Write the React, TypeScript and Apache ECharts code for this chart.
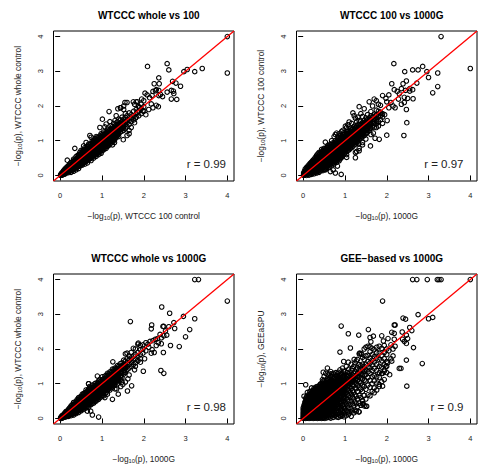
import React, { useEffect, useRef } from "react";
import * as echarts from "echarts";

type Row = number[];
const titles = ["WTCCC whole vs 100", "WTCCC 100 vs 1000G", "WTCCC whole vs 1000G", "GEE−based vs 1000G"];
const xNames = ["WTCCC 100 control", "1000G", "1000G", "1000G"];
const yNames = ["WTCCC whole control", "WTCCC 100 control", "WTCCC whole control", "GEEaSPU"];
const rLabels = ["r = 0.99", "r = 0.97", "r = 0.98", "r = 0.9"];
const ticks = [0, 1, 2, 3, 4];
const diagonal = [[-0.16, -0.16], [4.16, 4.16]];

// Each row is an x value followed by the y values read at that x.
const rows1: Row[] = [
  [.01,.0,.02],[.03,.01,.04,.06],[.05,.01,.05,.09],[.08,.03,.07,.11,.14],[.11,.04,.09,.14,.18],[.14,.07,.12,.17,.22],[.17,.09,.14,.2,.25,.44],
  [.2,.08,.13,.18,.23,.29],[.23,.12,.17,.22,.28,.33],[.26,.09,.15,.2,.26,.31,.37],[.29,.15,.21,.27,.33,.39],[.32,.12,.18,.24,.3,.36,.42,.47],
  [.35,.2,.26,.32,.38,.45,.78],[.38,.16,.22,.29,.35,.41,.47,.54],[.41,.24,.31,.37,.44,.5,.57],[.44,.2,.27,.34,.4,.46,.53,.6],
  [.47,.27,.33,.4,.46,.52,.59,.66],[.5,.3,.36,.43,.49,.55,.62,.72],[.53,.3,.38,.45,.52,.58,.64,.7],[.56,.36,.42,.48,.55,.61,.67,.73,.85],
  [.59,.33,.4,.47,.54,.6,.67,.74,.8],[.62,.4,.47,.53,.6,.66,.72,.78,.95],[.65,.36,.44,.5,.57,.63,.7,.76,.83],[.68,.45,.52,.58,.65,.71,.77,.84,.9],
  [.71,.48,.55,.62,.68,.75,.81,.88,1.15],[.74,.43,.5,.58,.65,.72,.78,.85,.92,1.1],[.77,.53,.6,.67,.74,.8,.87,.94,1.0],[.8,.5,.57,.64,.71,.78,.84,.91,.98],
  [.83,.58,.65,.72,.79,.85,.92,.99,1.06],[.86,.55,.63,.7,.77,.84,.9,.97,1.04,1.12],[.89,.63,.7,.77,.83,.9,.96,1.03,1.1],[.92,.6,.68,.75,.82,.89,.95,1.02,1.09],
  [.95,.66,.73,.8,.87,.94,1.0,1.07,1.14,1.38],[.98,.64,.71,.79,.86,.93,1.0,1.06,1.12,1.2],[1.01,.72,.79,.86,.93,.99,1.05,1.12,1.18,1.62],[1.04,.74,.82,.89,.96,1.03,1.09,1.16,1.25],
  [1.07,.8,.87,.94,1.0,1.07,1.13,1.2,1.4],[1.1,.78,.85,.93,1.0,1.06,1.12,1.19,1.27,1.48],[1.13,.84,.91,.98,1.05,1.11,1.17,1.24,1.33],[1.16,.86,.94,1.01,1.08,1.14,1.21,1.28],
  [1.19,.9,.98,1.05,1.12,1.18,1.25,1.32,1.55],[1.22,.95,1.02,1.09,1.15,1.22,1.28,1.35,1.43],[1.25,.98,1.05,1.12,1.19,1.26,1.33,1.4],[1.28,1.0,1.08,1.16,1.23,1.3,1.37,1.5],
  [1.31,1.05,1.13,1.2,1.27,1.34,1.42,1.58],[1.34,1.1,1.17,1.25,1.32,1.4,1.46,1.72],[1.37,1.14,1.22,1.29,1.36,1.44,1.55],[1.4,1.12,1.2,1.3,1.38,1.47,1.62],
  [1.44,1.25,1.34,1.42,1.5,1.6,1.95],[1.48,1.28,1.38,1.46,1.55,1.68],[1.52,1.3,1.42,1.5,1.62,1.9],[1.56,1.35,1.46,1.55,1.67,1.78],[1.6,1.4,1.52,1.6,1.72,2.1],[1.65,1.47,1.58,1.66,1.8],
  [1.7,1.55,1.65,1.75],[1.76,1.6,1.72,1.85],[1.82,1.68,1.78,1.9,2.12],[1.88,1.72,1.85,1.98],[1.94,1.78,1.92,2.05],[2.0,1.85,1.98,2.15],
];
const core1: Row[] = [
  [.125,.06,.1,.14],[.155,.1,.15,.19],[.185,.12,.18,.23],[.215,.15,.2,.25],[.245,.17,.23,.28],[.275,.18,.24,.3],
  [.315,.2,.27,.33,.39],[.375,.25,.32,.38,.44],[.435,.3,.37,.43,.5],[.495,.33,.4,.46,.52,.58],[.555,.39,.45,.52,.58,.64],[.615,.43,.5,.56,.63,.69],[.675,.48,.55,.61,.68,.74],
  [.735,.53,.6,.67,.74,.8],[.795,.6,.66,.73,.8,.87],[.855,.65,.72,.79,.86,.93],[.915,.7,.77,.84,.91,.98],[.975,.75,.82,.89,.96,1.03],[1.035,.8,.87,.94,1.01,1.08],[1.095,.86,.93,1.0,1.07,1.14],
  [1.155,.92,.99,1.06,1.13,1.2],[1.215,1.0,1.07,1.14,1.21,1.28],[1.275,1.06,1.14,1.21,1.28,1.35],[1.335,1.14,1.22,1.3,1.38],[1.395,1.2,1.28,1.36,1.44],[1.42,1.3,1.4,1.5],[1.5,1.36,1.46,1.56],
];
const extra1: number[][] = [
  [4,4],[4,2.95],[3.4,3.08],[3.22,2.99],[3.04,3.05],[2.96,2.99],[2.56,3.22],[2.6,3.04],[2.09,3.14],[2.36,2.81],[2.69,2.71],[2.77,2.66],[2.88,2.57],[2.25,2.64],[2.37,2.64],[2.79,2.19],[2.66,2.2],[2.71,2.43],[2.56,2.4],[2.66,2.45],[2.72,2.36],
  [2.36,2.45],[2.3,2.47],[2.4,2.33],[2.45,2.27],[2.36,2.3],[2.03,2.37],[2.08,2.32],[2.14,2.24],[2.2,2.3],[2.22,2.42],[2.28,2.44],[2.18,2.06],[2.22,1.95],[2.3,2.02],[2.35,1.98],[2.12,1.9],[2.05,1.75],[1.98,1.86],[1.9,1.96],[1.85,2.12],[1.78,2.05],[1.75,2.12],[1.55,2.1],[1.52,2.0],[1.45,1.95],[1.38,1.92],[1.17,1.84],[1.85,1.82],[1.8,1.65],[1.78,1.52],[1.65,1.3],[1.65,1.2],[1.51,1.03],[1.3,.95],[1.25,.88],[1.6,1.15],[1.95,2.2],[1.7,1.38],
];

const rows2: Row[] = [
  [.01,.0,.03,.07],[.03,.01,.06,.12],[.05,.02,.08,.14,.19],[.08,.0,.05,.11,.17,.23],[.11,.03,.09,.15,.21,.27],[.14,.01,.07,.13,.19,.25,.31],[.17,.05,.11,.17,.23,.29,.35],
  [.2,.03,.09,.15,.21,.27,.33,.39],[.23,.07,.13,.19,.25,.31,.37,.43],[.26,.05,.11,.17,.23,.29,.35,.41,.47],[.29,.09,.15,.21,.27,.33,.39,.45,.52],[.32,.07,.13,.19,.25,.31,.37,.43,.5,.58],
  [.35,.11,.17,.24,.3,.36,.42,.49,.55,.62],[.38,.09,.15,.22,.28,.34,.4,.46,.53,.6,.66],[.41,.13,.19,.26,.32,.38,.44,.51,.57,.64],[.44,.16,.23,.29,.35,.42,.48,.55,.61,.68,.75],
  [.47,.14,.21,.28,.34,.4,.47,.53,.59,.66,.72],[.5,.18,.25,.32,.38,.45,.51,.58,.64,.71,.78],[.53,.16,.23,.3,.37,.43,.5,.56,.63,.69,.76,.96],[.56,.21,.28,.35,.41,.48,.54,.61,.67,.74,.8],
  [.59,.27,.34,.4,.47,.53,.6,.66,.72,.79,.85],[.62,.25,.32,.39,.45,.52,.58,.65,.71,.78,.84],[.65,.31,.38,.44,.51,.57,.64,.7,.77,.83,.9],[.68,.3,.37,.43,.5,.57,.63,.7,.76,.83,.89,1.0],
  [.71,.35,.42,.48,.55,.62,.68,.75,.81,.88,.94],[.74,.33,.4,.47,.54,.6,.67,.74,.8,.87,.93,1.12],[.77,.4,.46,.53,.6,.66,.73,.8,.86,.93,1.0,1.18],[.8,.38,.45,.52,.58,.65,.72,.79,.85,.92,.98,1.22],
  [.83,.44,.51,.58,.64,.71,.78,.84,.91,.97,1.04,1.12],[.86,.42,.5,.57,.63,.7,.77,.83,.9,.96,1.03,1.09,1.2],[.89,.48,.55,.62,.69,.76,.82,.89,.95,1.02,1.08,1.15],[.92,.52,.6,.67,.74,.8,.87,.94,1.0,1.07,1.13,1.27],
  [.95,.58,.65,.72,.79,.85,.92,.98,1.05,1.11,1.18,1.3],[.98,.62,.7,.77,.84,.9,.97,1.03,1.1,1.17,1.24],[1.01,.66,.73,.8,.87,.93,1.0,1.06,1.13,1.2,1.42],[1.04,.6,.7,.78,.85,.92,.98,1.05,1.12,1.18,1.25,1.38],
  [1.07,.72,.8,.87,.94,1.0,1.07,1.14,1.2,1.27,1.46],[1.1,.74,.82,.89,.96,1.03,1.09,1.16,1.22,1.3,1.54],[1.13,.78,.86,.93,1.0,1.07,1.13,1.2,1.27,1.35],[1.16,.8,.88,.96,1.03,1.1,1.17,1.24,1.32,1.5],
  [1.19,.84,.92,1.0,1.07,1.14,1.21,1.28,1.35,1.8],[1.22,.88,.96,1.04,1.11,1.18,1.25,1.32,1.42,1.72],[1.25,.66,.9,1.0,1.08,1.16,1.23,1.3,1.38,1.65],[1.28,.94,1.02,1.1,1.18,1.26,1.33,1.42,1.55],
  [1.31,.98,1.06,1.14,1.22,1.3,1.38,1.46,1.68],[1.34,.78,1.02,1.12,1.2,1.28,1.36,1.45,1.58,1.98],[1.38,1.08,1.18,1.27,1.36,1.45,1.56,1.78],[1.42,.95,1.12,1.22,1.32,1.42,1.52,1.7],
  [1.46,1.15,1.26,1.36,1.46,1.58,1.92],[1.5,1.05,1.2,1.32,1.42,1.54,1.66],[1.54,1.25,1.36,1.48,1.6,1.75],[1.58,1.3,1.42,1.54,1.66,2.12],[1.62,1.18,1.36,1.48,1.6,1.72,1.84],[1.66,1.42,1.55,1.68,2.0],
  [1.7,1.38,1.5,1.62,1.76,2.2],[1.75,1.48,1.6,1.72,1.88,2.15],[1.8,1.42,1.55,1.7,1.85,2.05],[1.85,1.6,1.72,1.82,2.02],[1.9,1.5,1.68,1.78,2.3],
];
const core2: Row[] = [
  [.125,.06,.12,.18,.24],[.155,.09,.15,.21,.27],[.185,.12,.18,.24,.3],[.215,.12,.18,.24,.3,.36],[.245,.14,.2,.26,.32,.38],[.275,.16,.22,.28,.34,.4],
  [.315,.16,.22,.28,.34,.4,.46],[.375,.2,.26,.32,.38,.44,.5],[.435,.24,.3,.36,.42,.48,.54,.6],[.495,.3,.36,.42,.48,.54,.6,.66],[.555,.34,.4,.46,.52,.58,.64,.7],[.615,.39,.45,.51,.57,.63,.69,.75],[.675,.45,.51,.57,.63,.69,.75,.81],
  [.735,.5,.56,.62,.68,.74,.8,.86],[.795,.55,.61,.67,.73,.79,.85,.91],[.855,.6,.66,.72,.78,.84,.9,.96],[.915,.65,.71,.77,.83,.89,.95,1.01],[.975,.7,.76,.82,.88,.94,1.0,1.06],[1.035,.76,.82,.88,.94,1.0,1.06,1.12],[1.095,.82,.88,.94,1.0,1.06,1.12,1.18],
  [1.155,.88,.94,1.0,1.06,1.12,1.18,1.24],[1.215,.94,1.0,1.06,1.12,1.18,1.24,1.3],[1.275,1.0,1.06,1.13,1.2,1.27,1.34],[1.335,1.06,1.14,1.22,1.3,1.38],[1.395,1.14,1.22,1.3,1.38,1.46],[1.44,1.2,1.3,1.4,1.5],[1.52,1.3,1.4,1.5,1.6],[1.6,1.38,1.5,1.62],[1.68,1.5,1.6,1.7],[1.76,1.55,1.66,1.76],
];
const extra2: number[][] = [
  [3.3,4],[4,3.08],[2.17,3.22],[2.43,2.99],[2.62,3.04],[2.75,3.04],[2.86,3.14],[2.96,2.99],[3,2.82],[3.22,2.95],[3.22,2.56],[3.1,2.38],[2.72,2.66],[2.12,2.64],[2.47,2.72],[2.39,2.64],[2.62,2.47],[2.55,2.43],[2.63,2.21],[2.47,1.9],[2.48,1.52],[2.41,1.15],[2,1.16],[1.82,1.04],[1.72,1.07],[1.61,.85],[1.25,.51],[.91,.03],[.77,.07],[.72,.16],[.82,.27],[.65,.11],[.54,.18],[1.04,.52],[1.28,.69],[1.34,.71],[2.01,1.58],
  [1.95,1.75],[2.05,1.95],[2.1,2.1],[2.15,2.0],[2.2,1.95],[2.28,2.2],[2.35,2.05],[2.42,2.1],[2.5,2.22],[2.3,2.35],[2.25,2.42],[2.18,2.47],[2.05,2.32],[1.98,2.22],[2.35,2.5],[2.45,2.45],[2.55,2.5],[2.0,2.12],[1.88,1.75],[1.68,1.22],[1.75,1.38],[1.5,1.22],[2.42,2.25],[1.42,.88],[1.32,.92],
];

const rows3: Row[] = [
  [.01,.0,.02],[.03,.0,.03,.06],[.05,.01,.05,.09],[.08,.03,.07,.11],[.11,.04,.08,.12,.16],[.14,.05,.1,.15,.2],[.17,.07,.12,.17,.22],
  [.2,.06,.11,.16,.21,.27],[.23,.09,.14,.2,.25,.31],[.26,.08,.13,.19,.24,.3,.36],[.29,.12,.17,.23,.28,.34,.4],[.32,.1,.16,.22,.28,.34,.4,.46],
  [.35,.15,.21,.27,.33,.39,.45],[.38,.14,.2,.26,.32,.38,.44,.5],[.41,.19,.25,.31,.37,.43,.49,.55],[.44,.17,.24,.3,.36,.42,.48,.54,.6],
  [.47,.23,.29,.35,.41,.47,.53,.6],[.5,.22,.28,.35,.41,.47,.53,.59,.64],[.53,.27,.33,.4,.46,.52,.58,.64,.7],[.56,.26,.33,.4,.46,.52,.58,.64,.71],
  [.59,.31,.38,.44,.5,.56,.62,.68,.74],[.62,.3,.37,.43,.5,.56,.62,.68,.74,.82],[.65,.35,.42,.48,.55,.61,.67,.73,.79],[.68,.33,.4,.47,.54,.6,.66,.72,.78,.85,1.0],
  [.71,.4,.47,.53,.6,.66,.72,.78,.84,.92],[.74,.4,.47,.54,.61,.67,.73,.79,.85],[.77,.44,.51,.58,.65,.71,.77,.83,.89,.96],[.8,.44,.52,.59,.66,.72,.78,.84,.9],
  [.83,.5,.57,.64,.7,.76,.82,.88,.94,1.0],[.86,.5,.57,.64,.71,.77,.83,.89,.95,1.02],[.89,.56,.63,.7,.76,.82,.88,.94,1.0,1.22],[.92,.55,.63,.7,.77,.83,.89,.95,1.02,1.08],
  [.95,.6,.67,.74,.8,.86,.92,.98,1.05,1.12],[.98,.62,.7,.77,.83,.89,.95,1.01,1.08],[1.01,.66,.73,.8,.86,.92,.98,1.05,1.12,1.2],[1.04,.65,.74,.81,.88,.94,1.0,1.07,1.14],
  [1.07,.6,.72,.8,.87,.94,1.0,1.07,1.14,1.22],[1.1,.74,.82,.89,.96,1.02,1.09,1.16,1.24],[1.13,.7,.8,.88,.95,1.02,1.08,1.15,1.22,1.3],[1.16,.85,.92,.99,1.06,1.13,1.2,1.28],
  [1.19,.82,.9,.98,1.05,1.12,1.19,1.26,1.34],[1.22,.88,.96,1.03,1.1,1.17,1.24,1.32],[1.25,.9,.98,1.06,1.13,1.2,1.27,1.35,1.42],[1.28,.94,1.02,1.1,1.17,1.24,1.32,1.4],
  [1.31,.85,.98,1.06,1.14,1.22,1.3,1.38,1.45],[1.34,1.04,1.12,1.2,1.28,1.36,1.44],[1.37,1.0,1.1,1.2,1.28,1.36,1.44,1.52],[1.4,1.08,1.18,1.26,1.34,1.42,1.5],
  [1.44,1.12,1.22,1.32,1.4,1.5,1.58],[1.48,1.05,1.18,1.3,1.42,1.52,1.6],[1.52,1.28,1.38,1.46,1.56,1.68],[1.56,1.05,1.32,1.44,1.54,1.65,1.86],[1.6,1.4,1.5,1.6,1.72,1.88],[1.65,1.25,1.45,1.56,1.68,1.8],
  [1.7,1.5,1.62,1.74,1.9],[1.75,1.55,1.68,1.8,2.02],[1.8,1.6,1.72,1.84,2.0],[1.86,1.66,1.78,1.9,2.14],[1.92,1.72,1.84,1.98,2.1],[1.98,1.88,2.0,2.12],
];
const core3: Row[] = [
  [.125,.06,.1,.14],[.155,.08,.13,.18],[.185,.1,.15,.2],[.215,.12,.18,.23],[.245,.14,.2,.25],[.275,.16,.22,.28],
  [.315,.19,.25,.31,.37],[.375,.23,.29,.35,.41],[.435,.27,.33,.39,.45],[.495,.32,.38,.44,.5,.56],[.555,.37,.43,.49,.55,.61],[.615,.42,.48,.54,.6,.66],[.675,.47,.53,.59,.65,.71],
  [.735,.52,.58,.64,.7,.76],[.795,.57,.63,.69,.75,.81],[.855,.62,.68,.74,.8,.86],[.915,.67,.73,.79,.85,.91],[.975,.72,.78,.84,.9,.96],[1.035,.78,.84,.9,.96,1.02],[1.095,.84,.9,.96,1.02,1.08],
  [1.155,.9,.96,1.02,1.08,1.14],[1.215,.96,1.02,1.08,1.14,1.2],[1.275,1.02,1.08,1.14,1.2,1.26],[1.335,1.08,1.16,1.24,1.32],[1.395,1.14,1.22,1.3,1.38],[1.46,1.22,1.32,1.42],[1.54,1.34,1.44,1.54],
];
const extra3: number[][] = [
  [3.22,4],[3.31,4],[4,3.38],[2.43,3.21],[2.62,3.03],[2.95,2.94],[3.22,2.87],[3.1,2.56],[3,2.35],[2.85,2.07],[2.64,2.1],[2.47,1.9],[2.41,1.38],[2.48,1.3],[1.99,1.36],[1.68,2.79],[2.19,2.69],[2.18,2.58],[2.46,2.65],[2.48,2.65],[2.6,2.64],[2.72,2.76],[2.74,2.59],[2.39,2.42],[1.71,.94],[1.61,.79],[1.39,.7],[1.25,.55],[.92,.04],[.77,.1],[.73,.21],[.65,.21],[.68,1.0],[1.26,1.63],[1.87,2.17],
  [2.05,2.18],[2.1,2.14],[2.15,2.22],[2.22,2.24],[2.28,2.28],[2.33,2.3],[2.42,2.32],[2.48,2.38],[2.55,2.4],[2.52,2.52],[2.05,1.95],[2.12,2.05],[2.2,1.98],[2.25,1.9],[2.3,2.1],[2.35,2.18],[2.42,2.15],[2.18,1.88],[2.02,1.72],[1.92,1.62],[1.8,1.5],[1.78,1.4],[1.62,1.14],[1.5,.98],[1.45,.92],[1.35,.85],
];

const rows4: Row[] = [
  [.0,.0,.04,.08,.13,.18,.24,.3],[.02,.01,.06,.11,.16,.21,.27,.33,.38,.64],[.04,.02,.07,.12,.18,.23,.29,.35,.41,.47],[.06,.0,.05,.1,.15,.2,.26,.32,.37,.43,.5,.58,.97],
  [.08,.03,.08,.13,.18,.24,.3,.36,.42,.48,.54,.62],[.1,.01,.06,.11,.17,.22,.28,.34,.4,.46,.52,.58,.75],[.12,.04,.09,.15,.2,.26,.32,.38,.44,.5,.56,.62,.68],[.14,.0,.06,.12,.18,.24,.3,.36,.42,.48,.54,.6,.66],
  [.16,.03,.09,.15,.21,.27,.33,.39,.45,.51,.57,.63,.7,.78],[.18,.01,.07,.13,.19,.25,.31,.37,.43,.49,.55,.61,.67,.73],[.2,.04,.1,.16,.22,.28,.34,.4,.46,.52,.58,.64,.7,.76,.88],[.22,.02,.08,.14,.2,.26,.32,.38,.44,.5,.56,.62,.68,.74,.8],
  [.24,.0,.06,.12,.18,.24,.3,.36,.42,.48,.54,.6,.66,.72,.78],[.26,.03,.09,.15,.21,.27,.33,.39,.45,.51,.57,.63,.69,.75,.82,.87],[.28,.01,.07,.13,.19,.25,.31,.37,.43,.49,.55,.61,.67,.73,.79,.85],[.3,.04,.1,.16,.22,.28,.34,.4,.46,.52,.58,.64,.7,.76,.82,.9],
  [.32,.02,.08,.14,.2,.26,.32,.38,.44,.5,.56,.62,.68,.74,.8,.86],[.34,.0,.06,.12,.18,.24,.3,.36,.42,.48,.54,.6,.66,.72,.78,.84,.92],[.36,.03,.09,.15,.21,.27,.33,.39,.45,.51,.57,.63,.69,.75,.81,.87],[.38,.01,.07,.13,.19,.25,.31,.37,.43,.49,.55,.61,.67,.73,.79,.85,.93],
  [.4,.04,.1,.16,.22,.28,.34,.4,.46,.52,.58,.64,.7,.76,.82,.88,.97],[.42,.02,.08,.14,.2,.26,.32,.38,.44,.5,.56,.62,.68,.74,.8,.86,.92,1.0],[.44,.0,.06,.12,.18,.24,.3,.36,.42,.48,.54,.6,.66,.72,.78,.84,.9,.96],[.46,.03,.09,.15,.21,.27,.33,.39,.45,.51,.57,.63,.69,.75,.81,.87,.93,1.02,1.12],
  [.48,.01,.1,.19,.28,.35,.41,.47,.53,.59,.65,.71,.77,.83,.89,.95,1.08,1.33],
  [.5,.04,.13,.22,.31,.38,.44,.5,.56,.62,.68,.74,.8,.86,.92,1.0,1.2],[.52,.0,.09,.18,.27,.36,.42,.48,.54,.6,.66,.72,.78,.84,.9,.96,1.1],[.54,.06,.15,.24,.33,.4,.46,.52,.58,.64,.7,.76,.82,.88,.94,1.04,1.3],[.56,.02,.12,.21,.3,.38,.44,.5,.56,.62,.68,.74,.8,.86,.92,1.0,1.1],
  [.58,.08,.18,.27,.36,.42,.48,.54,.6,.66,.72,.78,.84,.9,.96,1.02,1.15,1.45],[.6,.03,.14,.24,.34,.41,.47,.53,.59,.65,.71,.77,.83,.89,.95,1.05,1.25],[.62,.1,.2,.3,.39,.46,.52,.58,.64,.7,.76,.82,.88,.94,1.0,1.12,1.3],[.64,.05,.16,.27,.37,.45,.52,.58,.64,.7,.76,.82,.88,.94,1.04,1.18],
  [.66,.01,.12,.24,.35,.44,.51,.57,.63,.69,.75,.81,.87,.93,1.0,1.08,1.22,1.35],[.68,.08,.2,.32,.42,.5,.56,.62,.68,.74,.8,.86,.92,.98,1.1,1.28],[.7,.15,.28,.4,.5,.58,.64,.7,.76,.82,.88,.94,1.0,1.08,1.2],[.72,.03,.12,.25,.38,.48,.56,.62,.68,.74,.8,.86,.92,.98,1.04,1.14,1.3],
  [.74,.18,.32,.44,.54,.62,.68,.74,.8,.86,.92,.98,1.05,1.16],[.76,.08,.24,.38,.5,.6,.67,.73,.79,.85,.91,.97,1.03,1.1,1.25],[.78,.14,.3,.44,.56,.64,.7,.76,.82,.88,.94,1.0,1.06,1.14,1.32],[.8,.05,.22,.38,.52,.62,.7,.76,.82,.88,.94,1.0,1.07,1.2],
  [.82,.12,.3,.46,.6,.7,.76,.82,.88,.94,1.0,1.04,1.12,1.28],[.84,.03,.2,.36,.54,.68,.74,.8,.86,.92,.98,1.04,1.08,1.18,1.33],[.86,.1,.28,.44,.6,.72,.8,.86,.92,.98,1.05,1.14,1.24],[.88,.16,.34,.5,.66,.76,.84,.9,.96,1.02,1.08,1.18,1.4],
  [.9,.06,.24,.42,.58,.72,.8,.86,.92,.98,1.04,1.12,1.25],[.92,.12,.3,.48,.64,.76,.84,.9,.96,1.02,1.1,1.3],[.94,.09,.22,.38,.54,.7,.8,.88,.94,1.0,1.06,1.2,1.45],[.96,.16,.32,.48,.62,.76,.86,.92,.98,1.04,1.12,1.22,1.36],
  [.98,.05,.2,.4,.56,.7,.82,.9,.98,1.05,1.14,1.28],[1.0,.13,.3,.48,.64,.78,.9,.97,1.04,1.1,1.2,1.35],[1.03,.08,.23,.42,.58,.74,.88,.98,1.05,1.15,1.25,1.5],[1.06,.18,.36,.54,.7,.84,.95,1.02,1.1,1.2,1.32],
  [1.09,.12,.3,.5,.66,.82,.95,1.03,1.12,1.24,1.42],[1.12,.2,.4,.6,.76,.9,1.0,1.08,1.18,1.3],[1.15,.06,.28,.5,.7,.86,1.02,1.1,1.22,1.38,1.56],
  [1.18,.22,.42,.62,.8,.96,1.06,1.14,1.26,1.44],[1.21,.16,.36,.56,.76,.94,1.08,1.16,1.3,1.5],[1.24,.24,.48,.68,.88,1.04,1.12,1.2,1.34,1.6],[1.27,.2,.42,.64,.86,1.02,1.14,1.24,1.42,1.66],
  [1.3,.34,.56,.78,.96,1.1,1.2,1.3,1.46,1.7],[1.34,.19,.44,.66,.9,1.06,1.2,1.3,1.4,1.55,1.86],[1.38,.38,.6,.84,1.02,1.16,1.28,1.4,1.52,1.87],[1.42,.42,.52,.78,.96,1.14,1.26,1.4,1.56,1.76],
  [1.46,.36,.66,.92,1.1,1.24,1.36,1.5,1.7,2.0],[1.5,.35,.56,.84,1.08,1.26,1.4,1.56,1.8,2.05],[1.55,.68,.96,1.18,1.34,1.48,1.64,1.82,2.08],[1.6,.65,.9,1.1,1.3,1.46,1.6,1.74,1.92,2.06],[1.65,.78,1.0,1.2,1.38,1.54,1.68,1.84,2.02],
  [1.7,.74,.88,1.08,1.24,1.44,1.62,1.78,1.98],[1.76,.82,1.02,1.2,1.38,1.56,1.74,1.9,2.05],[1.82,.98,1.18,1.32,1.5,1.7,1.88,2.08],[1.88,1.06,1.3,1.48,1.66,1.82,2.02],[1.94,1.12,1.36,1.54,1.72,1.9,2.1],[2.0,1.32,1.5,1.64,1.84,2.0],
];
const extra4: number[][] = [
  [4,4],[3.3,4],[3.21,4],[3.25,4],[2.97,4],[2.72,4],[2.62,4],[1.9,3.38],[2.75,2.99],[3.1,2.91],[3,2.87],[2.39,2.89],[2.45,2.86],[2.18,2.69],[2.2,2.69],[.91,2.66],[1.08,2.44],[1.33,2.4],[1.56,2.56],[2.55,2.62],[2.6,2.53],[2.37,2.49],[2.12,2.48],[2.18,2.45],[2.03,2.3],[1.88,2.38],[1.92,2.23],[1.6,2.33],[1.68,2.37],[1.62,2.21],[2.18,2.28],[2.47,2.4],[2.38,2.28],[2.47,2.16],[2.64,2.04],[1.13,2.03],[.88,1.91],[2.47,1.68],[2.85,1.58],[2.3,1.44],[2.34,1.44],[2.07,1.26],[2.48,.93],[1.9,.93],[1.82,.92],[1.52,.35],[1.44,.42],[1.33,.19],[.97,1.64],
  [2.1,1.72],[2.15,1.8],[2.12,1.65],[2.05,1.95],[2.15,2.0],[2.2,2.08],[2.1,2.12],[1.98,1.5],[2.02,1.6],[2.5,2.3],[2.42,2.22],[1.95,1.4],[1.9,1.3],[1.35,1.88],[1.4,1.85],[1.22,1.7],[1.08,1.62],
];

const expand = (rows: Row[], extra: number[][]) => [
  ...rows.flatMap((r) => r.slice(1).map((y) => [r[0], y])),
  ...extra,
];
const panels = [
  expand([...rows1, ...core1], extra1),
  expand([...rows2, ...core2], extra2),
  expand([...rows3, ...core3], extra3),
  expand(rows4, extra4),
];

const boxes = [
  { left: 53.5, top: 31 },
  { left: 296.5, top: 31 },
  { left: 53.5, top: 274 },
  { left: 296.5, top: 274 },
];
const boxW = 180.5;
const boxH = 150;
const font = "'Liberation Sans', Arial, sans-serif";
const rich = { a: { fontSize: 8.4, fontFamily: font, color: "#222" }, b: { fontSize: 5.8, fontFamily: font, color: "#222", padding: [4, 0, 0, 0] } };
const nameOf = (s: string) => `{a|−log}{b|10}{a|(p), ${s}}`;

export default function App() {
  const ref = useRef<HTMLDivElement>(null);
  useEffect(() => {
    const chart = echarts.init(ref.current!, null, { renderer: "svg" });
    const option: any = {
      animation: false,
      backgroundColor: "#fff",
      title: titles.map((t, i) => ({
        text: t,
        left: boxes[i].left + boxW / 2,
        top: boxes[i].top - 26,
        textAlign: "center",
        textStyle: { fontSize: 10, fontWeight: "bold", fontFamily: font, color: "#000" },
      })),
      grid: boxes.map((b) => ({ left: b.left, top: b.top, width: boxW, height: boxH, show: true, borderColor: "#000", borderWidth: 1, backgroundColor: "transparent", containLabel: false })),
      xAxis: boxes.map((_, i) => ({
        type: "value", gridIndex: i, min: -0.16, max: 4.16,
        splitLine: { show: false }, axisLine: { show: false },
        axisTick: { show: true, length: 5, customValues: ticks, lineStyle: { color: "#000", width: 1 } },
        axisLabel: { customValues: ticks, fontSize: 7.5, fontFamily: font, color: "#222", margin: 10 },
        name: nameOf(xNames[i]), nameLocation: "middle", nameGap: 30, nameTextStyle: { rich },
      })),
      yAxis: boxes.map((_, i) => ({
        type: "value", gridIndex: i, min: -0.16, max: 4.16,
        splitLine: { show: false }, axisLine: { show: false },
        axisTick: { show: true, length: 5, customValues: ticks, lineStyle: { color: "#000", width: 1 } },
        axisLabel: { customValues: ticks, fontSize: 7.5, fontFamily: font, color: "#222", rotate: 90, margin: 9 },
        name: nameOf(yNames[i]), nameLocation: "middle", nameGap: 31, nameTextStyle: { rich },
      })),
      series: panels.flatMap((data, i) => [
        {
          type: "scatter", xAxisIndex: i, yAxisIndex: i, data, symbol: "circle", symbolSize: 4.5,
          itemStyle: { color: "transparent", borderColor: "#000", borderWidth: 1.1, opacity: 1 },
          emphasis: { disabled: true }, z: 2,
        },
        {
          type: "line", xAxisIndex: i, yAxisIndex: i, data: diagonal, symbol: "none",
          lineStyle: { color: "#ff0000", width: 1.3 }, z: 3, silent: true,
        },
      ]),
      graphic: rLabels.map((t, i) => ({
        type: "text",
        x: boxes[i].left + (i % 2 ? 167 : 172.5),
        y: boxes[i].top + 133,
        style: { text: t, fontSize: 11.5, fontFamily: font, fill: "#222", textAlign: "right", textVerticalAlign: "middle" },
      })),
    };
    chart.setOption(option);
    return () => chart.dispose();
  }, []);
  return <div ref={ref} style={{ position: "absolute", left: 0, top: 0, width: 479, height: 467 }} />;
}
